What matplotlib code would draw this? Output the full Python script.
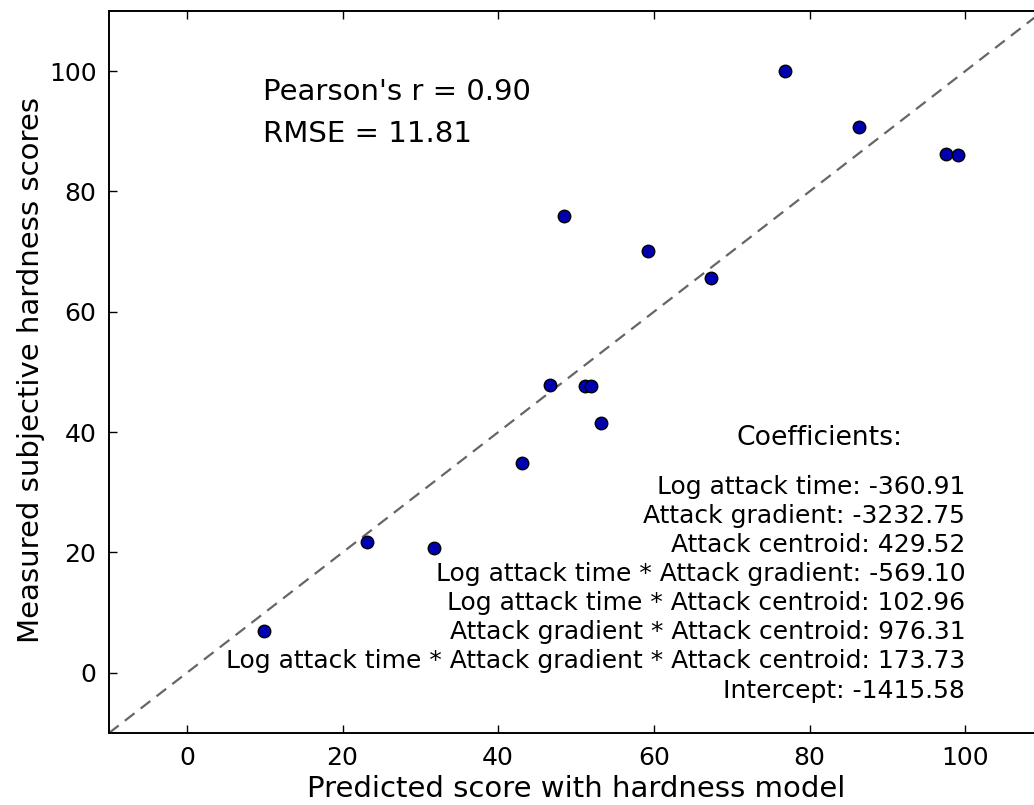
import matplotlib
matplotlib.use("Agg")
import matplotlib.pyplot as plt

predicted = [9.9, 23.2, 31.8, 43.1, 46.7, 51.1, 51.9, 53.2, 48.5, 59.3, 67.3, 76.8, 86.3, 97.6, 99.1]
measured = [7.0, 21.8, 20.8, 34.9, 47.9, 47.6, 47.6, 41.5, 75.9, 70.1, 65.6, 100.0, 90.7, 86.2, 86.0]

stats_lines = ["Pearson's r = 0.90", "RMSE = 11.81"]
coef_names = ["Log attack time", "Attack gradient", "Attack centroid",
              "Log attack time * Attack gradient", "Log attack time * Attack centroid",
              "Attack gradient * Attack centroid",
              "Log attack time * Attack gradient * Attack centroid", "Intercept"]
coef_values = [-360.91, -3232.75, 429.52, -569.10, 102.96, 976.31, 173.73, -1415.58]

xticks = [0, 20, 40, 60, 80, 100]
yticks = [0, 20, 40, 60, 80, 100]
lims = (-10, 110)

fig = plt.figure(figsize=(10.34, 8.05), dpi=100)
ax = fig.add_axes([109/1034, 72/805, (1043-109)/1034, (794-72)/805])

ax.plot(lims, lims, linestyle=(0, (5.5, 3.5)), color='#666666', linewidth=1.6, zorder=1)
ax.plot(predicted, measured, 'o', color='#0000b0', markeredgecolor='black',
        markeredgewidth=1.0, markersize=9, zorder=3, linestyle='none')

ax.set_xlim(lims)
ax.set_ylim(lims)
ax.set_xticks(xticks)
ax.set_yticks(yticks)
ax.tick_params(direction='in', length=6, width=1, top=True, right=True,
               labelsize=18, pad=9)
for s in ax.spines.values():
    s.set_linewidth(1.4)

ax.set_xlabel("Predicted score with hardness model", fontsize=21)
ax.xaxis.label.set_va('baseline')
ax.xaxis.set_label_coords(0.5, -(797 - 733) / 722)
ax.set_ylabel("Measured subjective hardness scores", fontsize=21)
ax.yaxis.set_label_coords(-0.0685, (805 - 370 - 72) / 722)

ax.text(9.8, 96.6, stats_lines[0], fontsize=21, ha='left', va='center')
ax.text(9.8, 89.5, stats_lines[1], fontsize=21, ha='left', va='center')

ax.text(81.3, 39.1, "Coefficients:", fontsize=19.2, ha='center', va='center')
coef_text = "\n".join(f"{n}: {v:.2f}" for n, v in zip(coef_names, coef_values))
ax.text(100, 14.0, coef_text, fontsize=18, ha='right', va='center',
        multialignment='right', linespacing=1.27)

fig.savefig("out.png", dpi=100)
